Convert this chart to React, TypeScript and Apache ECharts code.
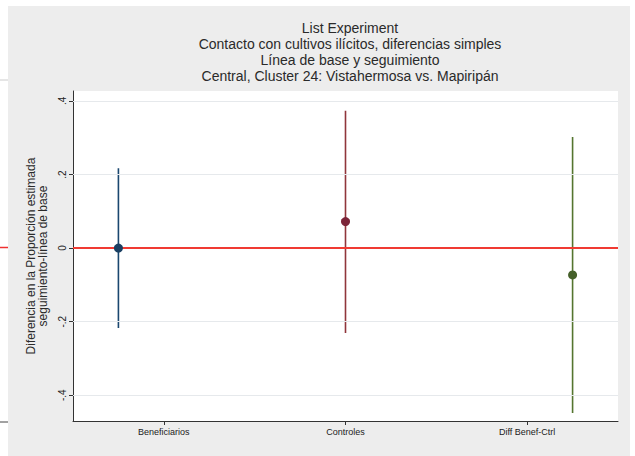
import React, { useEffect, useRef } from "react";
import * as echarts from "echarts";

const categories = ["Beneficiarios", "Controles", "Diff Benef-Ctrl"];
const labelPositions = [1.2, 2.0, 2.8];
const pointPositions = [1, 2, 3];
const estimates = [0.0, 0.072, -0.073];
const lower = [-0.217, -0.231, -0.448];
const upper = [0.217, 0.373, 0.302];
const colors = ["#1a476f", "#90353b", "#55752f"];
const markerColors = ["#1a3f62", "#7c2438", "#45602a"];
const yTicks = [-0.4, -0.2, 0, 0.2, 0.4];
const titleLines = [
  "List Experiment",
  "Contacto con cultivos ilícitos, diferencias simples",
  "Línea de base y seguimiento",
  "Central, Cluster 24: Vistahermosa vs. Mapiripán",
];
const yTitleLines = ["Diferencia en la Proporción estimada", "seguimiento-línea de base"];

const FONT = "'Liberation Sans', Arial, sans-serif";

const fmtY = (v: number) => {
  const r = Math.round(v * 10) / 10;
  if (r === 0) return "0";
  const s = r.toFixed(1);
  return s.replace("0.", ".");
};

export default function App() {
  const ref = useRef<HTMLDivElement>(null);
  useEffect(() => {
    if (!ref.current) return;
    const chart = echarts.init(ref.current, undefined, { renderer: "svg" });
    const barSeries = categories.map((c, i) => ({
      type: "line",
      name: c,
      data: [
        [pointPositions[i], lower[i]],
        [pointPositions[i], upper[i]],
      ],
      showSymbol: false,
      symbol: "none",
      lineStyle: { color: colors[i], width: 1.6 },
      z: 3,
      silent: true,
    }));
    chart.setOption({
      animation: false,
      backgroundColor: "#ffffff",
      textStyle: { fontFamily: FONT },
      graphic: [
        { type: "rect", shape: { x: 8, y: 6, width: 622, height: 450 }, style: { fill: "#ededed" }, z: -10 },
        { type: "rect", shape: { x: 73, y: 91, width: 545, height: 330 }, style: { fill: "#ffffff" }, z: -9 },
        { type: "line", shape: { x1: 0, y1: 247.5, x2: 8, y2: 247.5 }, style: { stroke: "#ee3030", lineWidth: 1.5 } },
        { type: "line", shape: { x1: 0, y1: 422, x2: 8, y2: 422 }, style: { stroke: "#444", lineWidth: 1 } },
        { type: "line", shape: { x1: 0, y1: 80, x2: 8, y2: 80 }, style: { stroke: "#ccc", lineWidth: 1 } },
      ],
      title: {
        text: titleLines.join("\n"),
        left: 345,
        top: 15,
        textAlign: "center",
        textStyle: {
          fontFamily: FONT,
          fontSize: 14,
          fontWeight: "normal",
          lineHeight: 16,
          color: "#2a2a2a",
        },
      },
      grid: { left: 73, right: 17, top: 91, bottom: 35 },
      xAxis: {
        type: "value",
        min: 0.8,
        max: 3.2,
        axisLine: { show: true, onZero: false, lineStyle: { color: "#333", width: 1 } },
        axisTick: { show: true, customValues: labelPositions, length: 4, lineStyle: { color: "#333" } },
        axisLabel: {
          customValues: labelPositions,
          formatter: (v: number) => {
            const idx = labelPositions.findIndex((p) => Math.abs(p - v) < 1e-6);
            return idx >= 0 ? categories[idx] : "";
          },
          fontSize: 9,
          color: "#222",
          margin: 6,
          fontFamily: FONT,
        },
        splitLine: { show: false },
      },
      yAxis: {
        type: "value",
        min: -0.47,
        max: 0.427,
        axisLine: { show: true, onZero: false, lineStyle: { color: "#333", width: 1 } },
        axisTick: { show: true, customValues: yTicks, length: 4, lineStyle: { color: "#333" } },
        axisLabel: {
          customValues: yTicks,
          formatter: (v: number) => fmtY(v),
          rotate: 90,
          fontSize: 10,
          color: "#222",
          margin: 6,
          fontFamily: FONT,
        },
        splitLine: { show: false },
        name: yTitleLines.join("\n"),
        nameLocation: "middle",
        nameRotate: 90,
        nameGap: 18,
        nameTextStyle: { fontSize: 12, lineHeight: 12, color: "#2a2a2a", fontFamily: FONT },
      },
      series: [
        {
          type: "line",
          data: [],
          silent: true,
          markLine: {
            symbol: "none",
            silent: true,
            label: { show: false },
            lineStyle: { color: "#e6e9ec", width: 1, type: "solid" },
            data: yTicks.filter((t) => t !== 0).map((t) => ({ yAxis: t })),
          },
          z: 1,
        },
        {
          type: "line",
          data: [],
          silent: true,
          markLine: {
            symbol: "none",
            silent: true,
            label: { show: false },
            lineStyle: { color: "#f03a32", width: 2, type: "solid" },
            data: [{ yAxis: 0 }],
          },
          z: 2,
        },
        ...barSeries,
        {
          type: "scatter",
          symbol: "circle",
          symbolSize: 9,
          z: 5,
          data: pointPositions.map((x, i) => ({
            value: [x, estimates[i]],
            itemStyle: { color: markerColors[i], opacity: 1 },
          })),
        },
      ],
    });
    return () => chart.dispose();
  }, []);
  return (
    <div
      ref={ref}
      style={{ position: "fixed", left: 0, top: 0, width: 635, height: 456 }}
    />
  );
}
